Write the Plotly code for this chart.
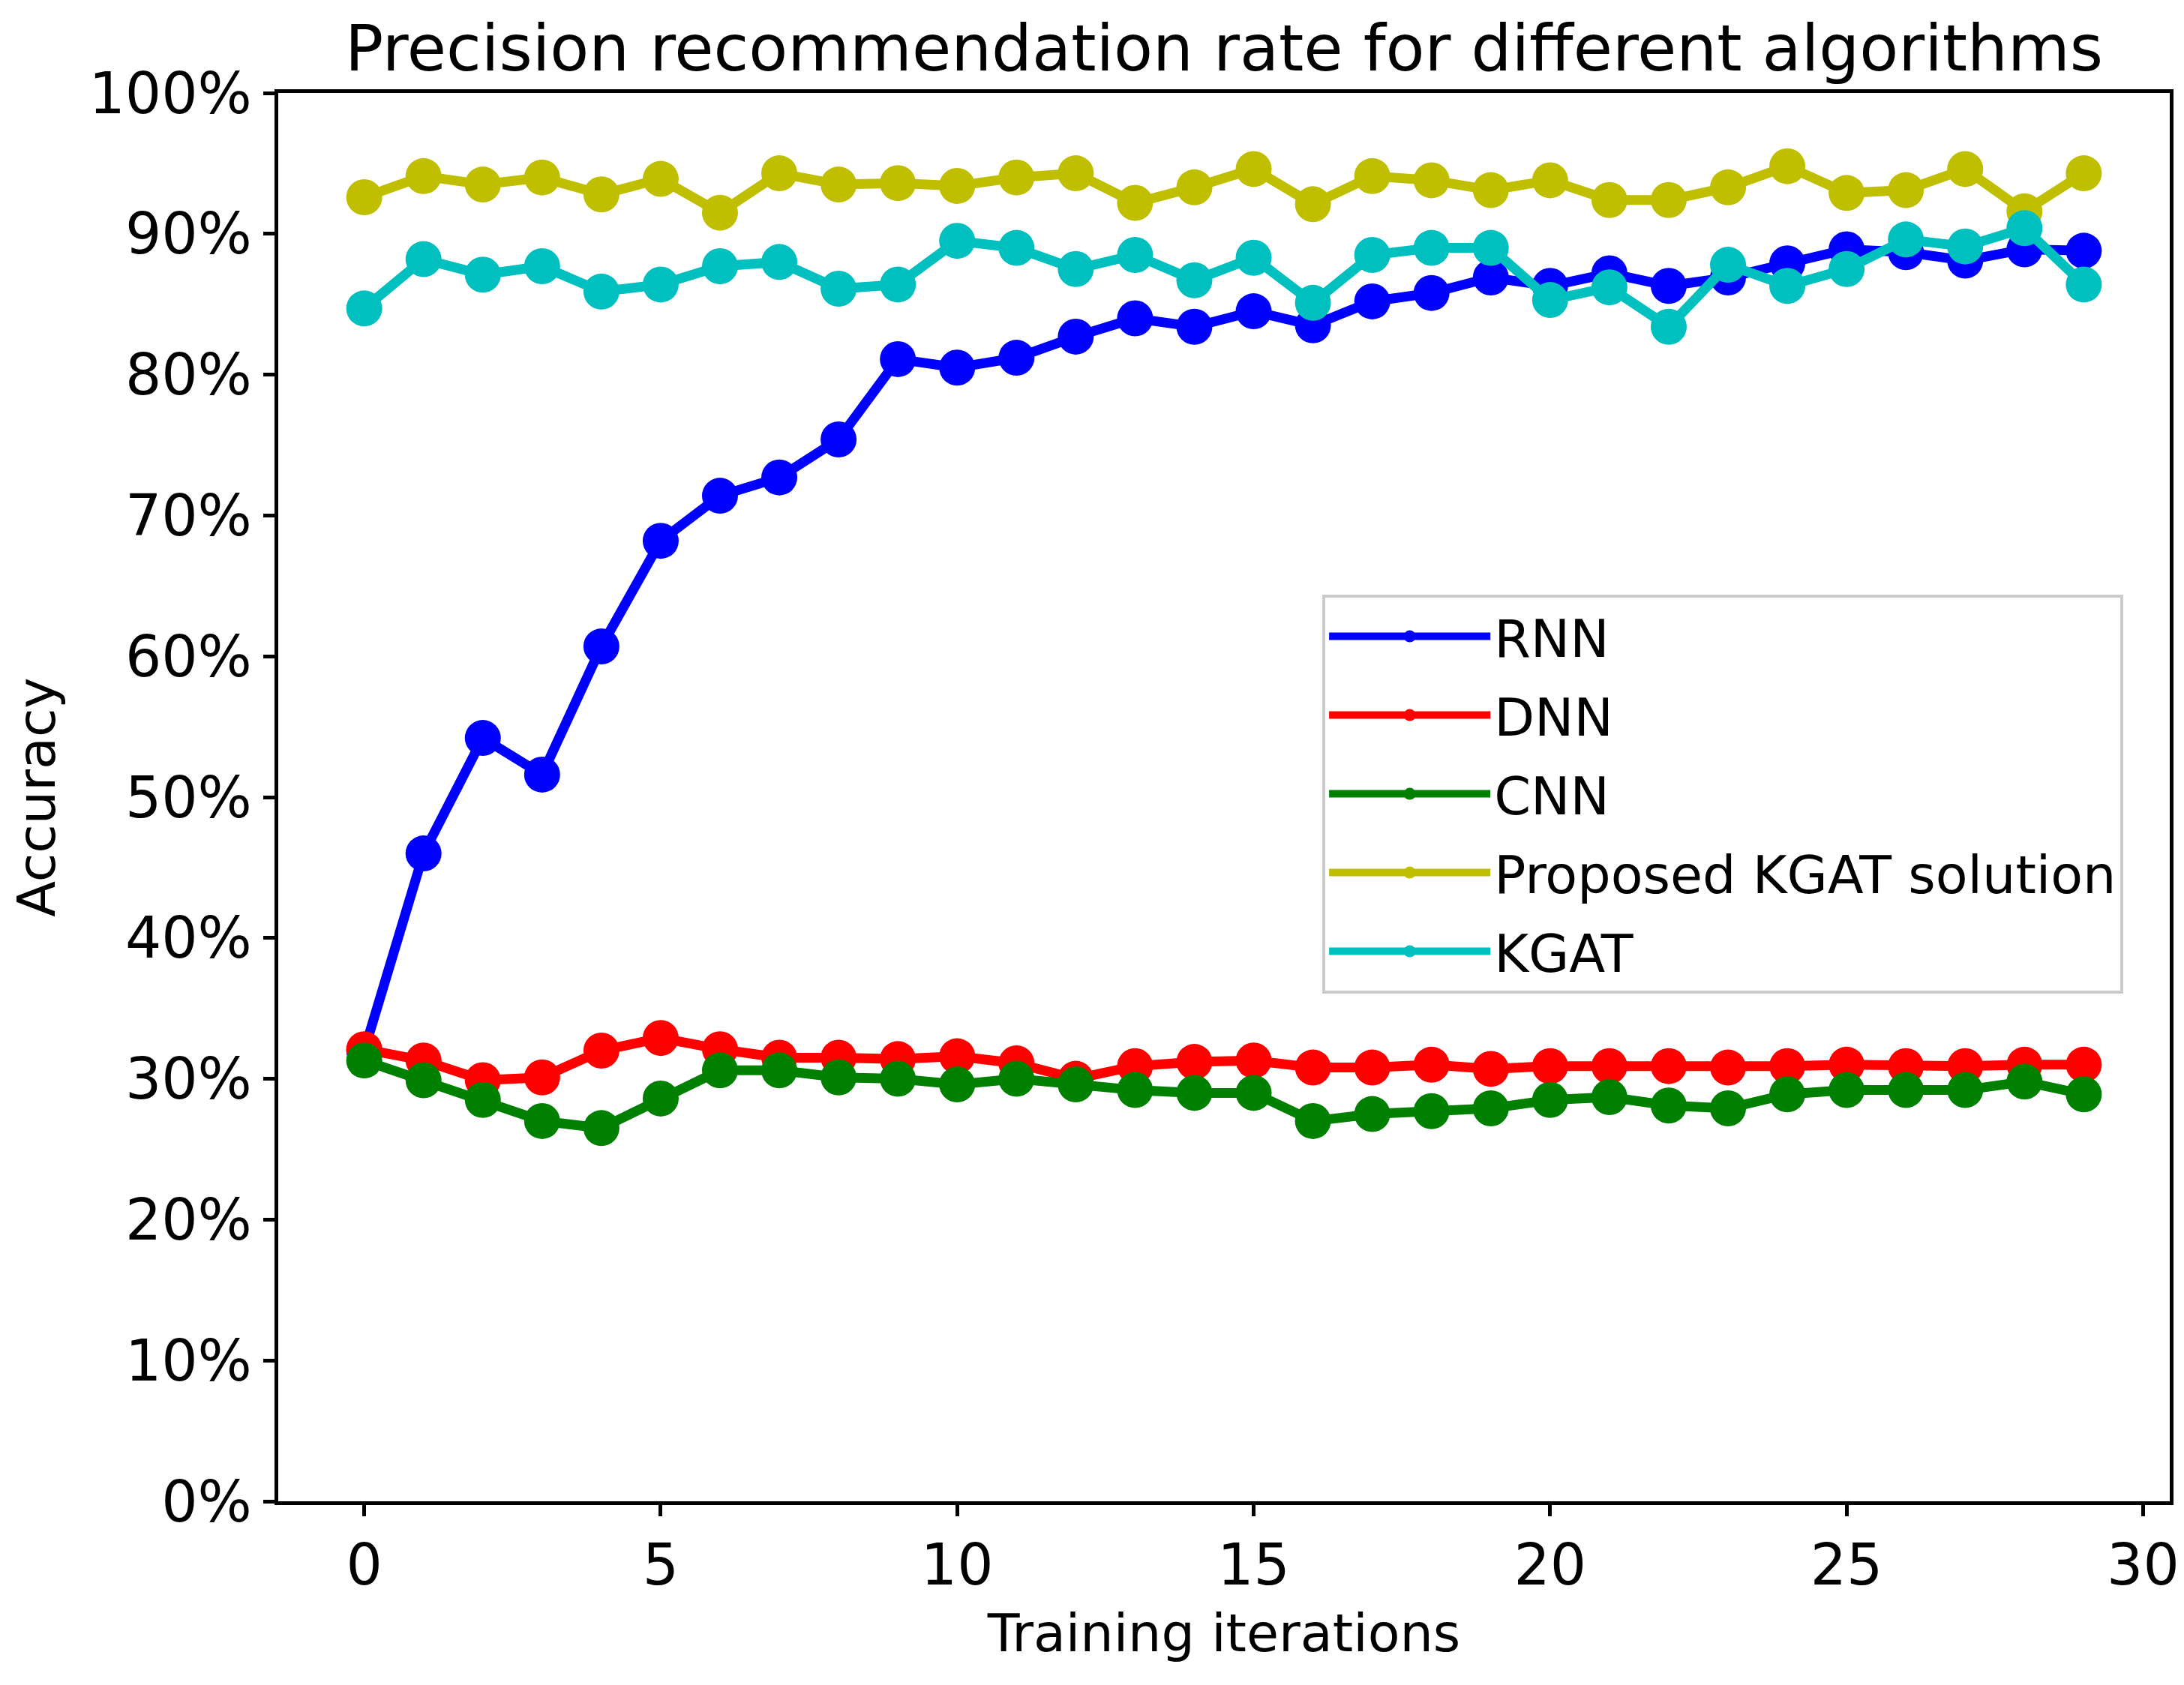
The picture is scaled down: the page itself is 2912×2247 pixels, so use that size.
import plotly.graph_objects as go

iterations = list(range(30))

rnn = [32.0, 46.0, 54.2, 51.6, 60.7, 68.2, 71.4, 72.7, 75.4, 81.1,
       80.5, 81.2, 82.7, 84.0, 83.4, 84.5, 83.5, 85.2, 85.8, 86.9,
       86.3, 87.2, 86.3, 86.9, 87.9, 88.9, 88.7, 88.1, 88.9, 88.8]

dnn = [32.1, 31.3, 29.9, 30.1, 32.0, 32.9, 32.1, 31.5, 31.5, 31.4,
       31.6, 31.1, 30.0, 30.9, 31.2, 31.3, 30.8, 30.8, 31.0, 30.7,
       30.9, 30.9, 30.9, 30.8, 30.9, 31.0, 30.9, 30.9, 31.0, 31.0]

cnn = [31.3, 29.9, 28.5, 27.0, 26.5, 28.6, 30.6, 30.6, 30.1, 30.0,
       29.6, 30.0, 29.6, 29.2, 29.0, 29.0, 27.0, 27.5, 27.7, 27.9,
       28.5, 28.7, 28.1, 27.9, 28.9, 29.2, 29.2, 29.2, 29.8, 28.9]

proposed = [92.6, 94.1, 93.5, 94.0, 92.8, 93.9, 91.5, 94.3, 93.5, 93.6,
            93.4, 94.0, 94.3, 92.2, 93.3, 94.6, 92.1, 94.1, 93.8, 93.1,
            93.8, 92.4, 92.4, 93.3, 94.8, 92.9, 93.1, 94.6, 91.6, 94.3]

kgat = [84.7, 88.2, 87.1, 87.7, 85.9, 86.4, 87.7, 88.0, 86.1, 86.4,
        89.5, 89.0, 87.5, 88.5, 86.7, 88.3, 85.1, 88.5, 89.0, 89.0,
        85.3, 86.2, 83.4, 87.8, 86.3, 87.5, 89.6, 89.1, 90.4, 86.4]

series = [
    ("RNN", rnn, "#0000ff"),
    ("DNN", dnn, "#ff0000"),
    ("CNN", cnn, "#008000"),
    ("Proposed KGAT solution", proposed, "#bfbf00"),
    ("KGAT", kgat, "#00bfbf"),
]

x_ticks = [0, 5, 10, 15, 20, 25, 30]
y_ticks = [i / 10 for i in range(11)]

FONT = "DejaVu Sans"

fig = go.Figure()
for name, vals, color in series:
    fig.add_trace(go.Scatter(
        x=iterations, y=[v / 100 for v in vals], name=name,
        legendgroup=name,
        mode="lines+markers",
        line=dict(color=color, width=13),
        marker=dict(color=color, size=48, symbol="circle"),
    ))

fig.update_layout(
    width=2912, height=2247,
    margin=dict(l=363, r=27, t=116, b=253, autoexpand=False),
    paper_bgcolor="white", plot_bgcolor="white",
    font=dict(family=FONT, size=70, color="black"),
    title=dict(text="Precision recommendation rate for different algorithms",
               font=dict(family=FONT, size=85, color="black"),
               x=0.5, xanchor="center", xref="paper",
               y=1 - 56 / 2247, yanchor="middle", yref="container"),
    showlegend=True,
    legend=dict(x=0.552, xanchor="left", y=0.644, yanchor="top",
                bgcolor="rgba(255,255,255,0.8)", bordercolor="#cccccc",
                borderwidth=4, font=dict(family=FONT, size=70, color="black"),
                itemwidth=215, tracegroupgap=11, entrywidth=883),
)

fig.update_xaxes(
    range=[-1.45, 30.45], tickvals=x_ticks, ticktext=[str(t) for t in x_ticks],
    showline=True, linecolor="black", linewidth=5, mirror=True,
    ticks="outside", ticklen=15, tickwidth=5, tickcolor="black",
    showgrid=False, zeroline=False,
    tickfont=dict(family=FONT, size=76, color="black"),
    title=dict(text="Training iterations", standoff=24,
               font=dict(family=FONT, size=70, color="black")),
)
fig.update_yaxes(
    range=[0, 1], tickvals=y_ticks, tickformat=".0%",
    showline=True, linecolor="black", linewidth=5, mirror=True,
    ticks="outside", ticklen=15, tickwidth=5, tickcolor="black",
    showgrid=False, zeroline=False,
    tickfont=dict(family=FONT, size=76, color="black"),
    title=dict(text="Accuracy", standoff=30,
               font=dict(family=FONT, size=70, color="black")),
)

fig.write_html("out.html")
